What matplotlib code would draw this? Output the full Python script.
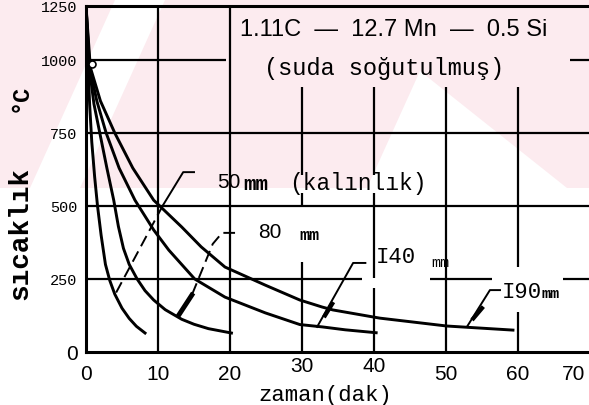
import matplotlib.pyplot as plt
from matplotlib.patches import Polygon
import matplotlib.transforms as mtransforms

MONO = 'Liberation Mono'
SANS = 'Liberation Sans'
W, H = 589, 405

# cooling curves: time (dak) vs temperature (°C), one per plate thickness
t_50 = [0, 0.3, 0.5, 0.8, 1.2, 1.6, 2.1, 2.7, 3.3, 4.0, 5.0, 6.0, 7.0, 8.2]
T_50 = [1185, 975, 850, 720, 600, 500, 400, 300, 245, 198, 150, 115, 88, 65]

t_80 = [0, 0.45, 1.1, 2.0, 2.9, 3.85, 4.5, 5.2, 6.0, 7.1, 8.2, 9.4, 11.0, 13.3, 15.0, 17.0, 20.2]
T_80 = [1185, 975, 850, 740, 630, 520, 430, 355, 300, 250, 210, 178, 145, 112, 95, 80, 65]

t_140 = [0, 0.5, 1.5, 2.8, 4.6, 6.8, 9.4, 11.5, 15.1, 19.3, 24.9, 29.7, 32.8, 36.0, 40.3]
T_140 = [1185, 975, 860, 750, 630, 520, 418, 349, 250, 188, 134, 94, 86, 76, 66]

t_190 = [0, 0.6, 2.0, 4.0, 6.5, 9.4, 13.3, 16.0, 19.3, 24.9, 29.7, 32.8, 34.3, 40.8, 50.1, 59.3]
T_190 = [1185, 975, 860, 750, 630, 520, 428, 360, 291, 229, 178, 154, 144, 116, 89, 75]

x_ticks = [0, 10, 20, 30, 40, 50, 60, 70]
y_ticks = [0, 250, 500, 750, 1000, 1185]
y_ticklabels = ['0', '250', '500', '750', '1000', '1250']


def fpx(x, y):
    return (x / W, 1 - y / H)


fig = plt.figure(figsize=(W / 100, H / 100), dpi=100)

# faint pink watermark behind the chart
pink = '#fcebef'
bg = [
    ([(0, 0), (589, 0), (589, 188), (0, 188)], pink),
    ([(115, 0), (165, 0), (80, 188), (30, 188)], 'white'),
    ([(420, 71), (567, 188), (367, 188)], 'white'),
]
for pts, col in bg:
    fig.patches.append(Polygon([fpx(*p) for p in pts], closed=True,
                               transform=fig.transFigure, facecolor=col,
                               edgecolor='none', zorder=-10))

ax = fig.add_axes([86 / W, (H - 352) / H, (590 - 86) / W, (352 - 6) / H])
ax.set_facecolor('none')
ax.set_xlim(0, 69.9)
ax.set_ylim(0, 1185)

# grid, broken where the labels sit
lw_grid = 1.6
for y, segs in [(250, [(0, 38.3), (47.8, 56.4), (66.3, 70)]),
                (500, [(0, 70)]),
                (750, [(0, 70)]),
                (1000, [(0, 19.5), (67.2, 70)])]:
    for a, b in segs:
        ax.plot([a, b], [y, y], color='k', lw=lw_grid, solid_capstyle='butt', zorder=1)
for x, segs in [(10, [(0, 1185)]),
                (20, [(0, 1185)]),
                (30, [(0, 308), (503, 545), (606, 907)]),
                (40, [(0, 220), (253, 545), (606, 907)]),
                (50, [(0, 907)]),
                (60, [(0, 137), (291, 907)])]:
    for a, b in segs:
        ax.plot([x, x], [a, b], color='k', lw=lw_grid, solid_capstyle='butt', zorder=1)

for tt, TT in [(t_50, T_50), (t_80, T_80), (t_140, T_140), (t_190, T_190)]:
    ax.plot(tt, TT, color='k', lw=2.1, solid_joinstyle='round', zorder=3)
ax.plot([0.8], [985], marker='o', ms=5, mfc='white', mec='k', mew=1.2, zorder=4)

# leaders to the curves
lead = dict(color='k', lw=1.4, zorder=3)
ax.plot([15.0, 13.5, 10.7], [616, 616, 503], **lead)
ax.plot([10.7, 4.0], [503, 195], ls=(0, (6, 3)), **lead)
ax.plot([20.7, 18.9, 17.6, 14.7], [408, 408, 370, 195], ls=(0, (6, 3)), **lead)
ax.plot([14.7, 12.9], [195, 127], color='k', lw=3.5, zorder=3)
ax.plot([38.8, 37.1, 32.1], [305, 305, 86], **lead)
ax.plot([34.2, 33.2], [165, 125], color='k', lw=3.0, zorder=3)
ax.plot([57.5, 56.1, 52.9], [212, 212, 86], **lead)
ax.plot([55.0, 53.8], [150, 115], color='k', lw=3.0, zorder=3)

ax.text(18.2, 579, '50', family=SANS, fontsize=15, va='center', ha='left')
ax.text(21.9, 575, 'mm', family=MONO, fontsize=15, weight='bold', va='center', ha='left')
ax.text(28.2, 576, '(kalınlık)', family=MONO, fontsize=16.5, va='center', ha='left')
ax.text(23.9, 408, '80', family=SANS, fontsize=15, va='center', ha='left')
ax.text(29.7, 400, 'mm', family=MONO, fontsize=12, weight='bold', va='center', ha='left')
ax.text(40.3, 322, 'I40', family=MONO, fontsize=16, va='center', ha='left')
ax.text(48.0, 305, 'mm', family=MONO, fontsize=11, va='center', ha='left')
ax.text(57.8, 205, 'I90', family=MONO, fontsize=16, va='center', ha='left')
ax.text(63.3, 200, 'mm', family=MONO, fontsize=11, weight='bold', va='center', ha='left')

for side in ['left', 'bottom', 'top']:
    ax.spines[side].set_linewidth(2.2)
ax.spines['right'].set_visible(False)

ax.set_xticks(x_ticks)
ax.set_xticklabels([str(v) for v in x_ticks], family=SANS, fontsize=15)
ax.tick_params(axis='x', length=0, pad=9)
xlabels = ax.get_xticklabels()
xlabels[-1].set_transform(xlabels[-1].get_transform() +
                          mtransforms.ScaledTranslation(-0.16, 0, fig.dpi_scale_trans))
for lab in xlabels[3:5]:
    lab.set_transform(lab.get_transform() +
                      mtransforms.ScaledTranslation(0, 0.07, fig.dpi_scale_trans))

ax.set_yticks(y_ticks)
ax.set_yticklabels(y_ticklabels, family=MONO, fontsize=11)
ax.tick_params(axis='y', length=0, pad=6)
ylabels = ax.get_yticklabels()
ylabels[0].set_fontfamily(SANS)
ylabels[0].set_fontsize(15)

fig.text(*fpx(325, 396), 'zaman(dak)', family=MONO, fontsize=16, ha='center', va='center')
fig.text(*fpx(20, 234), 'sıcaklık', family=MONO, fontsize=20, weight='bold',
         rotation=90, ha='center', va='center')
fig.text(*fpx(20, 98), '°C', family=MONO, fontsize=17, weight='bold',
         rotation=90, ha='center', va='center')

fig.text(*fpx(394, 30), '1.11C  —  12.7 Mn  —  0.5 Si', family=SANS, fontsize=17,
         ha='center', va='center')
fig.text(*fpx(384, 68), '(suda soğutulmuş)', family=MONO, fontsize=17,
         ha='center', va='center')

fig.savefig('out.png', dpi=100, facecolor='white')
